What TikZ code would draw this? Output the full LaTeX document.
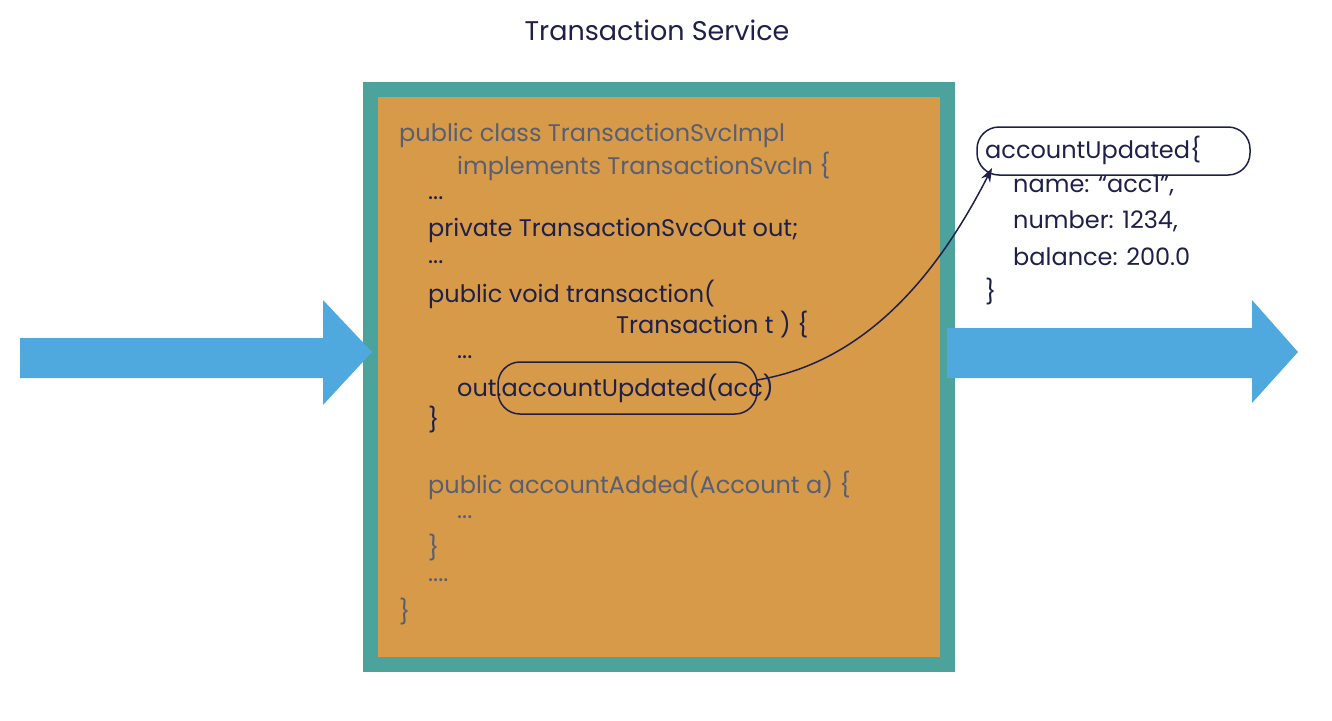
\documentclass[tikz,border=0pt]{standalone}
\usepackage{fontspec}
\setmainfont{Poppins}
\usetikzlibrary{arrows.meta}
\definecolor{teal}{HTML}{4BA39C}
\definecolor{org}{HTML}{D69A48}
\definecolor{blu}{HTML}{4FA9DE}
\definecolor{navy}{HTML}{1E2049}
\definecolor{gry}{HTML}{5A5E72}
\begin{document}
\begin{tikzpicture}[x=1pt,y=-1pt,
  code/.style={anchor=west,inner sep=0,font=\fontsize{24}{28}\selectfont,text=navy},
  gcode/.style={code,text=gry},
  ov/.style={draw=navy,line width=1.5pt,rounded corners=22pt}]
\useasboundingbox (0,0) rectangle (1332,720);
\node[font=\fontsize{27}{32}\selectfont,text=navy] (title) at (657,30) {Transaction Service};
\fill[teal] (363,82) rectangle (955,672);
\fill[org] (378,97) rectangle (940,657);
\fill[blu] (20,338) -- (323,338) -- (323,300) -- (372,352) -- (323,405) -- (323,378) -- (20,378) -- cycle;
\fill[blu] (947,328) -- (1252,328) -- (1252,300) -- (1298,352) -- (1252,403) -- (1252,378) -- (947,378) -- cycle;
\node[gcode] (l1) at (399,135) {public class TransactionSvcImpl};
\node[gcode] (l2) at (457,166) {implements TransactionSvcIn \{};
\node[code] (l3) at (428,198) {...};
\node[code] (l4) at (428,230) {private TransactionSvcOut out;};
\node[code] (l5) at (428,262) {...};
\node[code] (l6) at (428,294) {public void transaction(};
\node[code] (l7) at (616,325) {Transaction t ) \{};
\node[code] (l8) at (457,357) {...};
\node[code] (l9) at (457,388) {out.accountUpdated(acc)};
\node[code] (l10) at (428,420) {\}};
\node[gcode] (l11) at (428,485) {public accountAdded(Account a) \{};
\node[gcode] (l12) at (457,517) {...};
\node[gcode] (l13) at (428,548) {\}};
\node[gcode] (l14) at (428,580) {....};
\node[gcode] (l15) at (399,612) {\}};
\draw[ov] (498,362) rectangle (757,414);
\coordinate (ovr) at (757,380);
\node[code] (r1) at (985,150) {accountUpdated\{};
\draw[ov] (977,127) rectangle (1250,175);
\coordinate (tip) at (992,168);
\node[code] (r2) at (1013,186) {name: “acc1”,};
\node[code] (r3) at (1013,221) {number: 1234,};
\node[code] (r4) at (1013,257) {balance: 200.0};
\node[code] (r5) at (985,292) {\}};
\draw[navy,line width=1.5pt,-{Stealth[length=14pt,width=10pt]}] (ovr) .. controls (880,360) and (950,250) .. (tip);
\end{tikzpicture}
\end{document}
